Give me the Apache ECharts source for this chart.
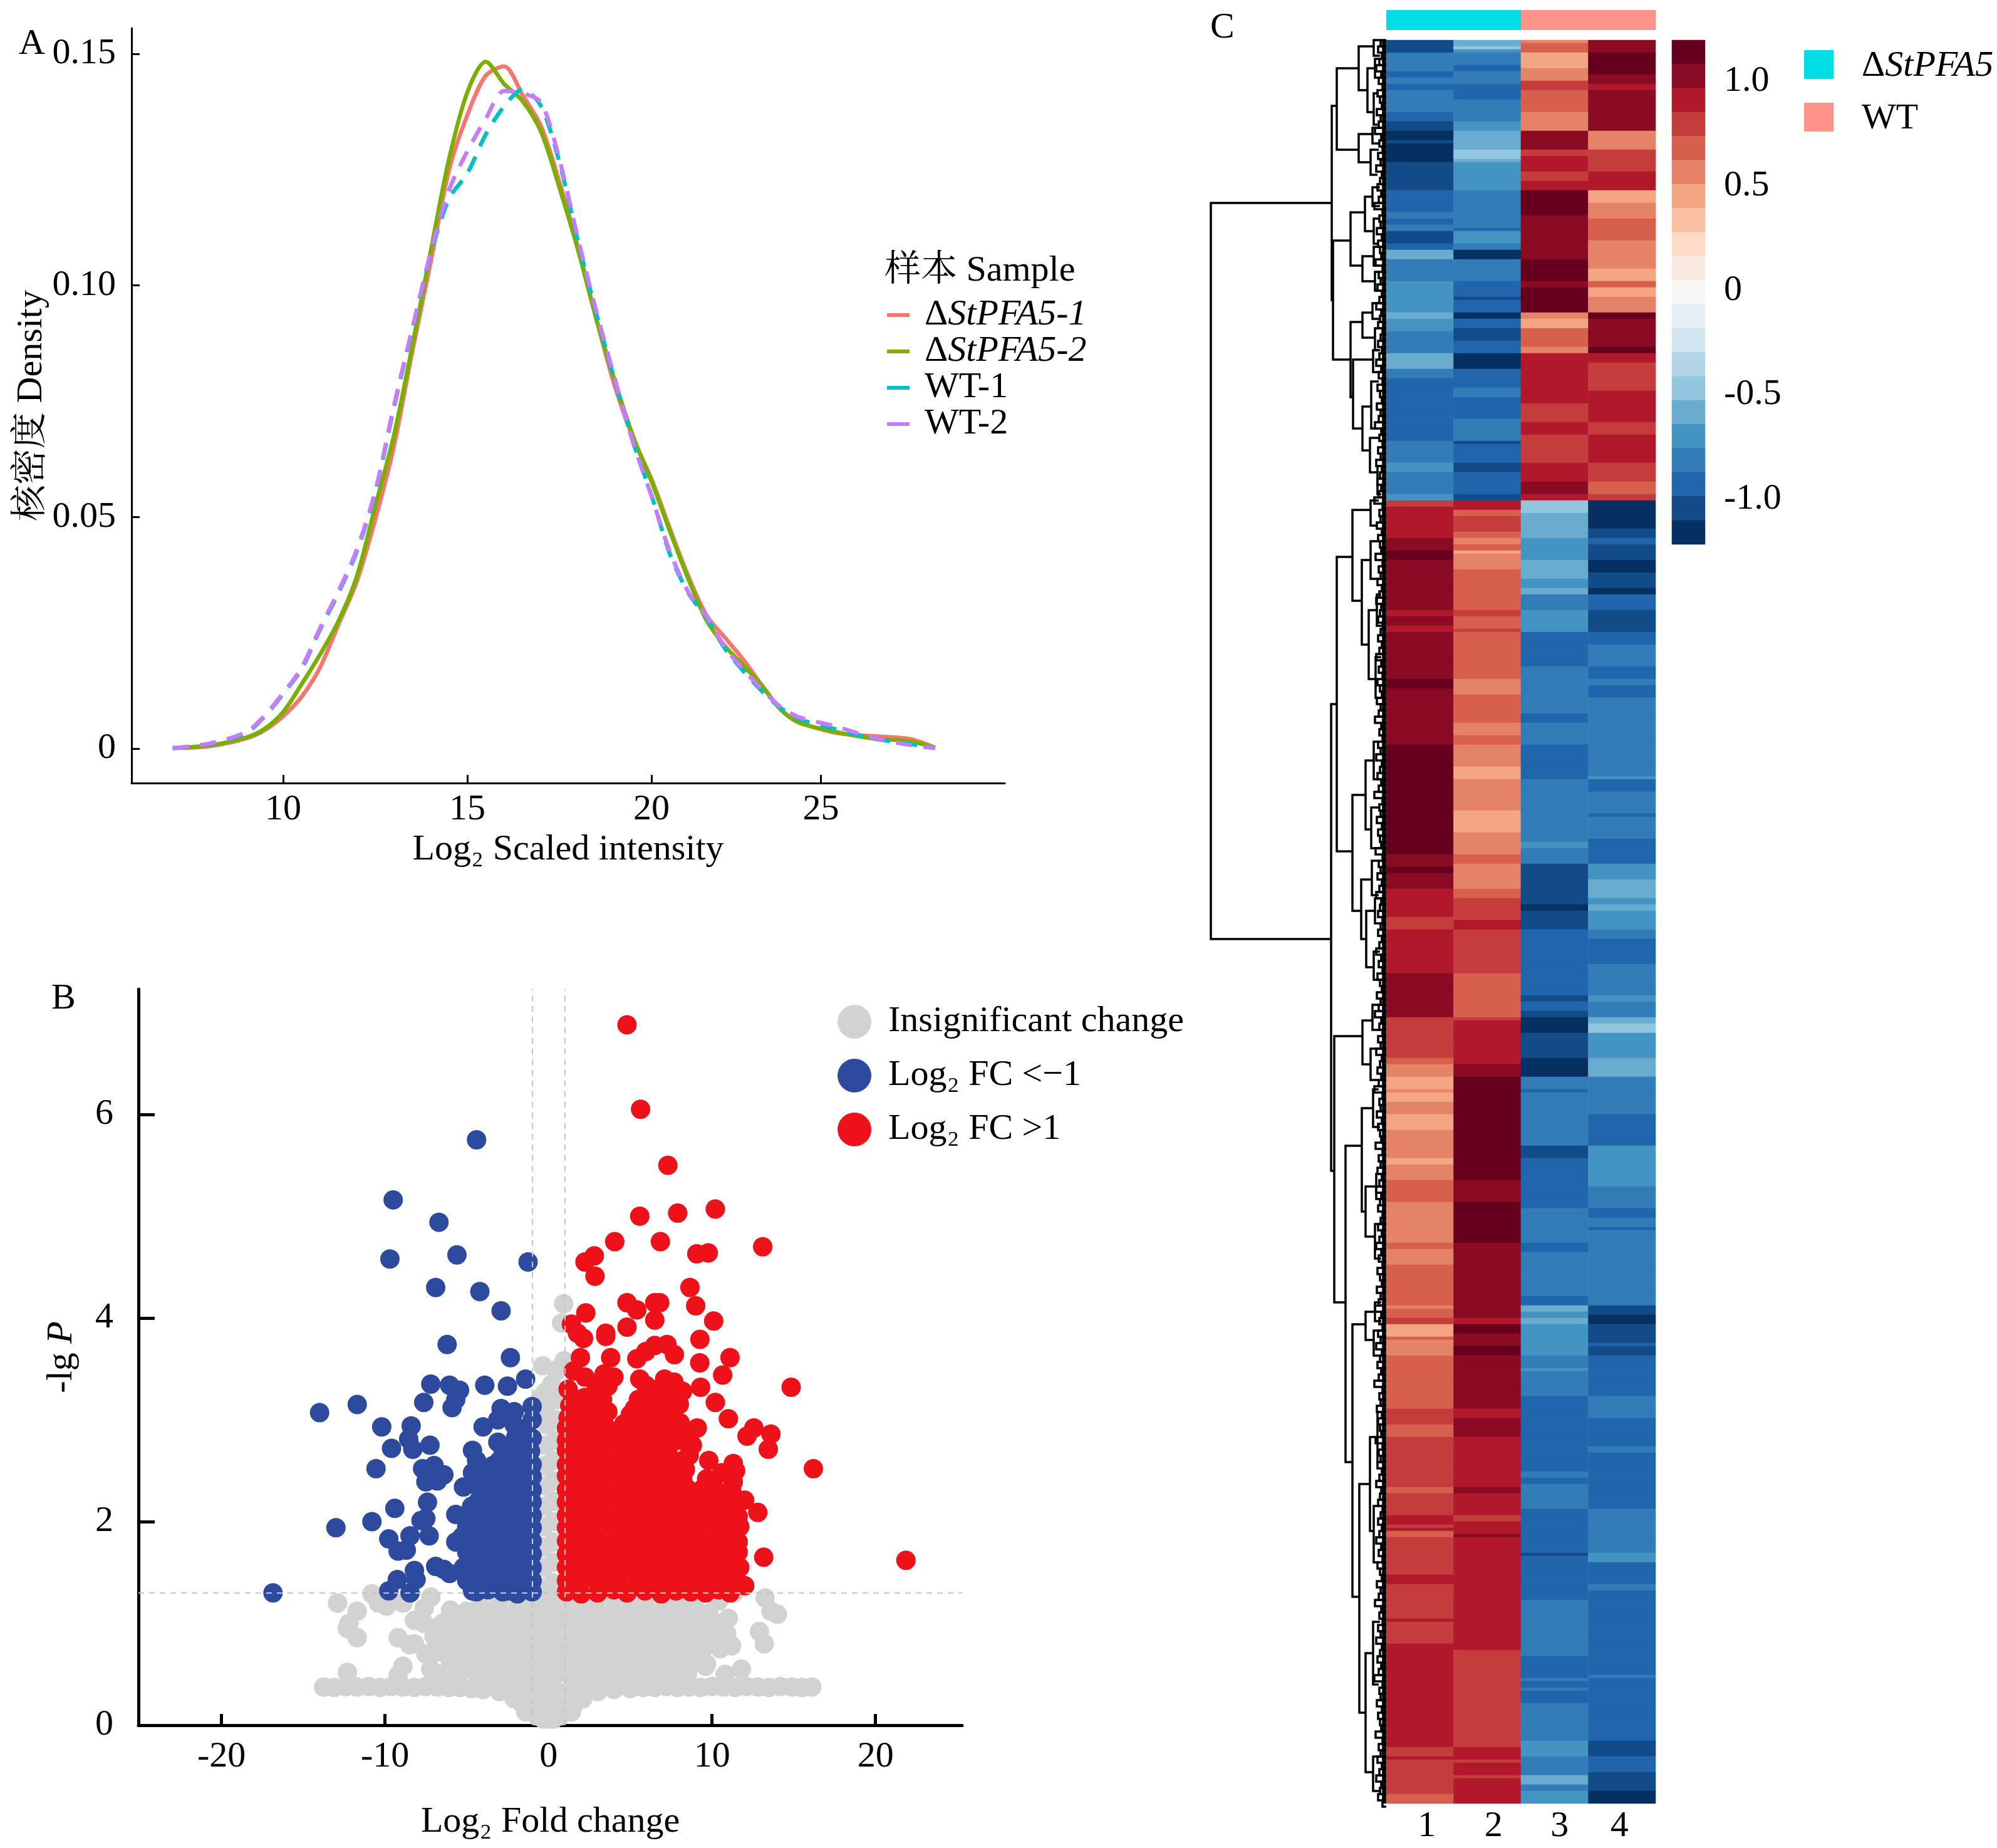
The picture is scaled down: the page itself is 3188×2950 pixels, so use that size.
<!DOCTYPE html>
<html>
<head>
<meta charset="utf-8">
<style>html,body{margin:0;padding:0;background:#fff}#c{width:3188px;height:2950px}</style>
<script src="https://cdn.jsdelivr.net/npm/echarts@6/dist/echarts.min.js"></script>
</head>
<body>
<div id="c"></div>
<script>
// ---------- Panel A: density ----------
const densityX = [7,8,9,9.5,10,10.5,11,11.5,12,12.5,13,13.5,14,14.5,15,15.5,16,16.5,17,17.5,18,18.5,19,19.5,20,20.5,21,21.5,22,22.5,23,23.5,24,25,26,27,27.7];
const ko1 = [.0001,.0005,.0022,.0040,.0070,.0112,.0175,.0268,.0361,.0495,.0650,.0855,.1048,.1248,.1368,.1453,.1473,.1411,.1344,.1223,.1084,.0928,.0783,.0670,.0582,.0475,.0372,.0287,.0239,.0191,.0136,.0085,.0058,.0034,.0027,.0021,.0002];
const ko2 = [.0001,.0007,.0024,.0043,.0079,.0139,.0203,.0275,.0372,.0523,.0674,.0867,.1072,.1272,.1417,.1483,.1435,.1398,.1332,.1211,.1078,.0928,.0795,.0674,.0577,.0469,.0366,.0276,.0221,.0179,.0136,.0085,.0056,.0036,.0022,.0016,.0002];
const wt1 = [.0001,.0010,.0034,.0070,.0118,.0172,.0257,.0336,.0426,.0553,.0734,.0903,.1066,.1187,.1242,.1326,.1387,.1423,.1387,.1266,.1097,.0940,.0795,.0662,.0547,.0420,.0336,.0282,.0215,.0167,.0124,.0088,.0064,.0042,.0022,.0010,.0001];
const wt2 = [.0001,.0011,.0036,.0072,.0120,.0175,.0260,.0340,.0430,.0556,.0738,.0905,.1070,.1205,.1290,.1360,.1420,.1415,.1395,.1272,.1102,.0945,.0800,.0660,.0545,.0425,.0338,.0285,.0218,.0170,.0128,.0090,.0068,.0048,.0024,.0008,.0001];
const densityXTicks = [10,15,20,24.6];
const densityXLabels = ['10','15','20','25'];
const densityYTicks = [0,.05,.10,.15];

// ---------- Panel B: volcano ----------
const pThreshold = 1.3, fcThreshold = 1;
const blueSparse = [[-16.85,1.3],[-14,3.07],[-11.7,3.15],[-10.2,2.93],[-8.4,2.94],[-8.55,2.81],[-9.6,2.72],[-8.3,2.71],[-7.25,2.75],[-10.55,2.52],[-7.7,2.52],[-7,2.55],[-6.4,2.46],[-7.5,2.39],[-6.8,2.4],[-5.2,2.34],[-7.4,2.19],[-9.4,2.13],[-10.8,2],[-13,1.94],[-7.8,2.01],[-7.5,2.03],[-5.67,2.07],[-9.77,1.83],[-8.47,1.86],[-7.3,1.86],[-9.2,1.71],[-8.7,1.72],[-5.67,1.8],[-4.65,1.83],[-4.37,1.62],[-6.9,1.56],[-6.4,1.53],[-6.05,1.49],[-8.2,1.52],[-9.25,1.43],[-8.1,1.43],[-9.77,1.32],[-8.47,1.3],[-4.5,1.46],[-4.65,1.32],[-4,2.93],[-3.1,3],[-2.9,3.11],[-2.1,3.08],[-3.1,2.78],[-2,2.83],[-4.65,2.7],[-4.4,2.6],[-4.65,2.48],
[-7.2,3.35],[-6.05,3.34],[-5.44,3.29],[-5.67,3.2],[-5.9,3.12],[-7.63,3.17],[-3.9,3.34],[-2.51,3.33],[-1.4,3.4],[-2.33,3.61],[-6.2,3.74],[-2.9,4.07],[-4.2,4.26],[-6.9,4.3],[-1.25,4.55],[-5.6,4.62],[-9.7,4.58],[-6.7,4.94],[-9.5,5.16],[-4.4,5.75]];
const blueDense = [[-1,1.31],[-1.9,1.29],[-2.8,1.31],[-3.7,1.33],[-4.4,1.31],[-1,1.42],[-1.5,1.44],[-2.4,1.45],[-3.3,1.43],[-4.1,1.46],[-1,1.55],[-2,1.57],[-2.9,1.56],[-3.7,1.58],[-1,1.68],[-1.5,1.7],[-2.4,1.69],[-3.3,1.71],[-4.1,1.68],[-1,1.81],[-2,1.83],[-2.9,1.82],[-3.7,1.8],[-4.4,1.78],[-1,1.94],[-1.5,1.95],[-2.4,1.94],[-3.3,1.96],[-4.1,1.93],[-1,2.06],[-2,2.08],[-2.9,2.07],[-3.7,2.05],[-4.4,2.02],[-1,2.19],[-1.5,2.2],[-2.4,2.19],[-3.3,2.21],[-1,2.31],[-2,2.33],[-2.9,2.32],[-3.7,2.3],[-4.3,2.34],[-1,2.44],[-1.5,2.45],[-2.4,2.44],[-3.2,2.46],[-1,2.56],[-2,2.58],[-2.7,2.57],[-1.1,2.69],[-1.6,2.68],[-2.3,2.66],[-1,2.82],[-1.5,2.9],[-1,3],[-1,3.13],
[-3.5,2.42],[-3.9,2.44],[-4.3,2.2],[-3.6,2.18],[-3,2.6],[-3.4,2.55],[-4.7,2.15],[-5,1.95],[-4.9,2.05],[-5,1.7],[-5.2,1.55],[-5,1.42],[-3.4,1.35],[-2.4,1.32],[-4,1.75],[-5.3,1.85],[-2.1,2.95],[-1.8,2.72],[-2.8,2.72]];
const redSparse = [[4.8,6.88],[5.63,6.05],[7.3,5.5],[5.58,5],[7.9,5.03],[10.2,5.07],[4.05,4.75],[6.84,4.75],[13.1,4.7],[2.23,4.55],[2.8,4.61],[2.84,4.41],[9.07,4.63],[9.77,4.64],[8.65,4.3],[4.8,4.15],[5.4,4.08],[6.5,4.15],[6.8,4.15],[9,4.12],[2.28,4.05],[10.1,3.97],[6.5,3.98],[1.4,3.94],[4.8,3.91],[1.77,3.85],[2.14,3.8],[3.5,3.85],[3.5,3.82],[9.26,3.79],[6.5,3.73],[5.95,3.67],[5.4,3.6],[7.25,3.74],[7.7,3.64],[1.95,3.61],[3.8,3.61],[11.1,3.61],[9.25,3.56],[1.53,3.48],[5.58,3.4],[3.4,3.45],[4,3.42],[2.23,3.42],[10.65,3.44],[7.1,3.4],[7.67,3.37],[5.95,3.34],[3.63,3.33],[1.2,3.3],[2.23,3.22],[9.3,3.32],[14.84,3.32],[8.2,3.28],[6.4,3.22],[7.35,3.22],[5.5,3.2],[1.3,3.14],[10.2,3.17],[5.26,3.11],[3.63,3.08],[7.1,3.1],[11,3.01],[8.05,2.97],[9.1,2.92],[12.56,2.92],[12.14,2.84],[13.6,2.86],[13.44,2.71],[16.2,2.52],[9.8,2.6],[11.3,2.57],[10.6,2.48],[11.44,2.5],[11.3,2.39],[9.67,2.42],[8.37,2.51],[12,2.21],[12.8,2.09],[11.6,1.8],[13.16,1.65],[21.86,1.62],[12,1.37],[11.3,1.46]];
const redDense = [[1.1,1.31],[2,1.29],[3,1.3],[4,1.33],[4.8,1.3],[5.9,1.32],[6.9,1.29],[7.8,1.32],[8.7,1.31],[9.6,1.3],[10.4,1.33],[11.1,1.3],
[1.1,1.42],[1.6,1.44],[2.5,1.45],[3.5,1.43],[4.4,1.46],[5.4,1.44],[6.4,1.45],[7.3,1.43],[8.3,1.45],[9.2,1.44],[10.1,1.46],[11,1.42],[11.7,1.39],
[1.1,1.55],[2.1,1.57],[3,1.56],[3.9,1.58],[4.9,1.57],[5.8,1.55],[6.8,1.58],[7.8,1.57],[8.7,1.56],[9.7,1.58],[10.6,1.56],[11.3,1.58],
[1.1,1.68],[1.6,1.7],[2.6,1.69],[3.5,1.71],[4.4,1.69],[5.4,1.7],[6.3,1.68],[7.3,1.71],[8.2,1.69],[9.2,1.7],[10.1,1.68],[11,1.71],
[1.1,1.81],[2.1,1.83],[3,1.82],[4,1.8],[4.9,1.83],[5.9,1.82],[6.8,1.81],[7.8,1.83],[8.7,1.82],[9.7,1.8],[10.6,1.83],[11.2,1.85],
[1.1,1.94],[1.6,1.95],[2.6,1.94],[3.5,1.96],[4.5,1.94],[5.4,1.95],[6.4,1.93],[7.3,1.96],[8.2,1.95],[9.2,1.94],[10.2,1.96],[11,1.97],
[1.1,2.06],[2.1,2.08],[3.1,2.07],[4,2.05],[4.9,2.08],[5.9,2.07],[6.8,2.06],[7.7,2.08],[8.7,2.07],[9.6,2.06],[10.6,2.08],
[1.1,2.19],[1.6,2.2],[2.6,2.19],[3.5,2.21],[4.5,2.19],[5.4,2.2],[6.4,2.18],[7.3,2.21],[8.2,2.2],[9.2,2.19],[10.1,2.21],[11.1,2.2],
[1.1,2.31],[2.1,2.33],[3.1,2.32],[4,2.3],[4.9,2.33],[5.9,2.32],[6.8,2.31],[7.7,2.33],[8.5,2.32],[9.9,2.31],
[1.1,2.45],[1.6,2.44],[2.6,2.45],[3.5,2.46],[4.5,2.44],[5.4,2.45],[6.4,2.43],[7.3,2.46],[8.2,2.42],
[1.1,2.56],[2.1,2.58],[3.1,2.57],[4,2.55],[4.9,2.58],[5.9,2.57],[6.8,2.56],[7.7,2.58],[8.2,2.6],
[1.1,2.7],[1.6,2.69],[2.6,2.7],[3.5,2.71],[4.5,2.69],[5.4,2.7],[6.4,2.68],[7.3,2.71],
[1.1,2.8],[2.1,2.83],[3.1,2.82],[4.2,2.8],[5.2,2.83],[6.2,2.82],[7.1,2.81],[7.9,2.8],[8.4,2.78],
[2.6,2.95],[3.5,2.93],[4.6,2.96],[5.6,2.95],[6.4,2.94],[7.3,2.96],[2,3.07],[6,3.05],[6.9,3.08],
[1.1,2.92],[1.2,3.02],[2,2.95],[2.6,3.05],[3.1,3.08],[1.8,3.2],[2.7,3.2],[2.9,3.35],[5.2,2.98],[5.9,3.15],[6.8,3.2],[6.3,3.3],[7.6,3.05],[7.9,2.92],[8.3,2.85],[8.6,2.65],[8.8,2.75],[3.3,3.2],[4.5,2.85],[5,3.05],[7,3.3],[7.5,3.15],[8,3.15],
[9.5,2.2],[10.2,2.32],[10.8,2.25],[11.2,2.3],[9.4,2.32],[10.6,1.95],[11.7,1.95],[11.6,2.05],[11.7,1.55],[11.6,1.7]];
const greyBottomRow = [[-13.75,.375],[-13.1,.37],[-12.4,.38],[-11.7,.375],[-11,.38],[-10.3,.37],[-9.6,.38],[-8.9,.375],[-8.2,.37],[-7.5,.38],[-6.8,.375],[-6.1,.37],[-5.4,.37],[-4.7,.36],[-4,.35],[-3,.33],[-2.1,.26],[-1.6,.21],[-1.1,.16],[-.7,.09],[-.3,.06],[0,.06],[.3,.06],[.7,.09],[1.1,.16],[1.6,.21],[2.1,.26],[3,.33],[4,.35],[5,.36],[5.8,.37],[6.5,.37],[7.2,.38],[7.9,.37],[8.6,.375],[9.3,.37],[10,.38],[10.7,.375],[11.4,.37],[12.1,.38],[12.8,.375],[13.5,.37],[14.2,.38],[14.9,.375],[15.5,.37],[16.1,.375]];
const greyFill = [[-5.5,.5],[-4.5,.52],[-3.5,.5],[-2.5,.51],[-1.5,.5],[-.5,.49],[.5,.5],[1.5,.52],[2.5,.5],[3.5,.51],[4.5,.5],[5.5,.49],[6.5,.52],[7.5,.5],[8.5,.5],
[-6,.63],[-5,.62],[-4,.64],[-3,.63],[-2,.62],[-1,.64],[0,.63],[1,.62],[2,.64],[3,.63],[4,.62],[5,.64],[6,.63],[7,.62],[8,.64],[9,.62],[9.6,.58],
[-6.5,.75],[-5.5,.76],[-4.5,.75],[-3.5,.74],[-2.5,.76],[-1.5,.75],[-.5,.74],[.5,.76],[1.5,.75],[2.5,.74],[3.5,.76],[4.5,.75],[5.5,.74],[6.5,.76],[7.5,.75],[8.5,.74],[9.5,.76],[10.5,.75],[11.2,.78],
[-7,.87],[-6,.88],[-5,.87],[-4,.86],[-3,.88],[-2,.87],[-1,.86],[0,.88],[1,.87],[2,.86],[3,.88],[4,.87],[5,.86],[6,.88],[7,.87],[8,.86],[9,.88],[10,.87],[10.9,.9],
[-7.6,1],[-6.5,1],[-5.5,1.01],[-4.5,1],[-3.5,.99],[-2.5,1.01],[-1.5,1],[-.5,.99],[.5,1.01],[1.5,1],[2.5,.99],[3.5,1.01],[4.5,1],[5.5,.99],[6.5,1.01],[7.5,1],[8.5,.99],[9.5,1.01],[10.4,1],
[-6,1.13],[-5,1.12],[-4,1.14],[-3,1.13],[-2,1.12],[-1,1.14],[0,1.13],[1,1.12],[2,1.14],[3,1.13],[4,1.12],[5,1.14],[6,1.13],[7,1.12],[8,1.14],[9,1.13],[9.8,1.1],
[-4.2,1.25],[-3,1.24],[-2,1.25],[-1,1.24],[0,1.25],[1,1.24],[2,1.25],[3,1.24],[4,1.25],[5,1.24],[6,1.25],[7,1.24],[8,1.25],[9,1.24],[10.4,1.22],
[-.9,.2],[-.4,.2],[0,.2],[.4,.2],[.9,.2],[-1.6,.33],[-.9,.33],[-.2,.33],[.5,.33],[1.2,.33],[1.9,.33],[-2.5,.38],[2.5,.38],[-3.5,.42],[3.5,.42],[-1.5,.42],[0,.42],[1.5,.42],[-6.5,.5],[-7.2,.55],[-7.5,.7],[-8.2,.8],[-6,.5],[-1.4,.13],[1.4,.13],[-2,.3],[2,.3]];
const greyCentre = [[-.3,1.35],[.3,1.4],[-.3,1.55],[.3,1.6],[-.3,1.75],[.3,1.8],[-.3,1.95],[.3,2],[-.3,2.15],[.3,2.2],[-.2,2.35],[.3,2.4],[-.2,2.55],[.3,2.6],[-.2,2.75],[.4,2.8],[-.1,2.95],[.5,3],[-.2,3.1],[.5,3.2],[-.2,3.27],[.2,3.35],[-.35,3.53],[.5,3.48],[.6,3.5],[.95,3.58],[.8,3.95],[.93,4.14],[-.46,3.22]];
const greySparse = [[-12.9,1.2],[-11.7,1.12],[-12.2,1],[-12.3,.95],[-11.7,.86],[-10.8,1.29],[-10.4,1.2],[-9.9,1.17],[-8.9,1.2],[-7.2,1.26],[-7.6,1.15],[-9.2,.86],[-8.5,.79],[-12.3,.52],[-8.9,.58],[-9.2,.49],[-6.8,.72],[-8.2,1.03],[-6.6,.5],[13.25,1.25],[13.6,1.12],[14,1.09],[12.9,.92],[13.2,.8],[11.8,.55],[11.07,.8],[10.6,.95],[9.67,.6],[10.8,.5],[11.35,1.3],[11,1.05]];
const volcanoXTicks = [-20,-10,0,10,20], volcanoYTicks = [0,2,4,6];

// ---------- Panel C: heatmap ----------
const colourLevels = ['#67001f','#8a0b24','#b2182b','#c43c3c','#d6604d','#e58368','#f4a582','#f9c0a3','#fddbc7','#f9eae1','#f7f7f7','#e5eff4','#d1e5f0','#b2d5e8','#92c5de','#6aacd0','#4393c3','#327cb8','#2166ac','#134b88','#053061'];
const levelValues = [1.13,1.01,.90,.78,.67,.55,.44,.32,.21,.09,-.02,-.14,-.25,-.37,-.48,-.60,-.71,-.83,-.94,-1.06,-1.17];
const rowCount = 563;
const sampleColumns = ['1','2','3','4'];
// each run: [last row, level]
const col1 = [[4,19],[10,17],[12,18],[14,17],[16,18],[23,17],[26,18],[29,19],[32,20],[33,19],[39,20],[48,19],[55,18],[57,17],[59,18],[61,17],[65,19],[67,18],[70,15],[77,17],[79,16],[87,16],[89,15],[93,16],[100,17],[105,15],[108,17],[128,18],[135,17],[138,16],[145,17],[147,16],
[149,3],[159,2],[163,1],[166,0],[182,1],[184,2],[187,1],[189,2],[204,1],[207,0],[225,1],[260,0],[264,1],[266,0],[271,1],[280,2],[284,3],[298,2],[312,1],[325,3],[327,4],[331,5],[335,6],[336,5],[339,6],[343,5],[348,6],[357,5],
[359,6],[364,5],[371,4],[384,5],[386,4],[391,5],[404,4],[405,5],[408,4],[410,3],[414,6],[415,4],[420,5],[437,4],[442,3],[446,4],[462,3],[464,4],[471,3],[474,2],[475,3],[476,2],[478,4],[490,3],[493,2],[504,3],[505,2],[512,3],[545,2],[548,3],[549,2],[560,3],[563,4]];
const col2 = [[2,15],[3,14],[4,16],[8,17],[10,18],[14,17],[19,18],[26,17],[29,16],[35,15],[38,14],[39,15],[48,16],[60,17],[61,18],[65,16],[67,17],[70,20],[77,17],[82,18],[83,19],[87,18],[89,20],[92,18],[96,19],[100,18],[105,20],[111,18],[114,17],[121,18],[128,17],[129,19],[135,18],[138,19],[145,18],[147,19],
[150,2],[152,4],[157,3],[159,4],[161,5],[163,4],[164,6],[169,5],[182,4],[184,3],[188,4],[189,3],[204,4],[209,5],[218,4],[222,5],[225,4],[232,5],[236,6],[246,5],[253,6],[260,5],[263,4],[271,5],[274,4],[281,3],[284,2],[298,3],[312,4],[313,3],[327,2],[331,1],[364,0],
[371,1],[384,0],[408,1],[410,2],[413,0],[417,1],[420,0],[437,1],[440,2],[446,1],[462,2],[464,1],[471,2],[473,3],[477,2],[478,1],[514,2],[545,3],[549,2],[550,3],[554,2],[555,3],[563,2]];
const col3 = [[1,5],[4,4],[9,6],[10,5],[13,5],[16,3],[23,4],[29,5],[35,1],[37,3],[42,2],[45,3],[48,2],[56,0],[70,1],[77,0],[79,1],[87,0],[89,5],[92,6],[98,4],[100,5],[116,2],[122,3],[126,2],[135,3],[141,2],[145,1],[147,2],
[151,14],[159,15],[166,16],[172,15],[175,16],[177,15],[182,17],[189,16],[200,18],[215,17],[218,18],[225,17],[236,18],[256,17],[258,16],[263,17],[276,19],[278,20],[284,19],[305,18],[307,19],[310,18],[312,19],[317,20],[325,19],[331,20],[335,17],[336,18],[353,17],[357,19],
[373,18],[384,17],[387,18],[401,17],[404,18],[406,15],[408,16],[410,15],[420,16],[424,17],[425,16],[433,17],[457,18],[459,17],[461,18],[469,17],[483,18],[484,19],[498,18],[516,17],[523,18],[524,17],[526,18],[527,17],[531,18],[543,17],[548,16],[554,17],[557,15],[559,17],[563,16]];
const col4 = [[4,1],[11,0],[14,1],[16,2],[29,1],[35,5],[42,3],[48,2],[52,6],[57,5],[64,4],[73,5],[77,6],[79,4],[82,6],[87,5],[89,0],[98,1],[100,0],[103,2],[112,3],[122,2],[126,3],[135,2],[141,3],[145,4],[147,3],
[156,20],[159,19],[161,18],[166,19],[170,20],[175,19],[177,20],[182,18],[189,19],[193,18],[200,17],[204,18],[206,17],[210,18],[235,17],[236,16],[240,18],[247,17],[248,18],[255,17],[263,18],[268,16],[274,15],[276,16],[278,15],[284,16],[287,17],[295,18],[305,17],[307,16],[312,17],[314,15],[317,14],[325,16],[331,15],[343,17],[353,18],[357,16],
[366,16],[373,17],[376,18],[379,17],[380,18],[404,17],[407,19],[410,20],[416,19],[417,18],[420,19],[433,18],[440,17],[449,18],[451,17],[469,18],[483,17],[486,16],[493,18],[495,17],[522,18],[523,17],[543,18],[548,19],[553,18],[559,19],[563,20]];
const colourbarTicks = [1,.5,0,-.5,-1], colourbarLabels = ['1.0','0.5','0','-0.5','-1.0'];
const groupNames = ['ΔStPFA5','WT'], groupSizes = [2,2];
// dendrogram merges: [merge height, row a, row b, height of child a, height of child b]
const dendroMerges = [[280,52,287,87,88],[87,21,83,79,85],[79,9,35,44,44],[44,2,16,20,30],[30,9,23,18,20],[20,0,5,10,10],[18,6,12,10,10],[20,17,27,12,14],[44,30,39,22,25],[25,35,43,12,14],[22,28,33,10,10],[85,64,102,57,57],[57,55,72,34,38],[34,50,61,22,20],[22,47,53,10,10],[20,57,65,10,12],[38,69,77,20,18],[20,66,72,10,10],[18,74,80,10,10],[57,90,114,38,53],[38,87,95,22,18],[22,84,89,10,10],[18,92,99,10,10],[53,102,124,21,38],[21,99,106,10,10],[38,117,131,24,26],[24,109,124,12,14],[26,127,138,12,14],[14,136,145,8,8],
[88,212,361,79,83],[79,165,259,54,54],[54,150,179,25,39],[25,147,155,12,14],[39,166,193,25,28],[25,160,172,14,12],[28,182,204,15,17],[15,177,187,8,8],[17,197,210,8,10],[54,241,278,33,40],[33,230,252,20,24],[20,224,236,10,10],[24,245,258,12,10],[40,268,287,23,32],[23,262,273,12,12],[32,278,296,18,20],[18,274,282,8,8],[20,291,300,10,10],
[83,318,403,38,65],[38,313,327,22,25],[22,308,316,10,10],[25,322,332,12,12],[65,353,454,39,54],[39,341,374,21,33],[21,335,347,12,10],[33,366,382,16,18],[16,362,370,8,8],[18,378,389,10,8],[54,410,497,33,43],[33,406,415,18,20],[18,403,409,8,8],[20,412,420,8,8],[43,461,534,26,33],[26,446,476,14,20],[14,438,454,8,8],[20,468,486,10,12],[33,515,553,21,21],[21,505,525,10,12],[21,548,559,10,8]];
const leafHeights = [9,13,7,11,16,8,12,6,14,10,7,15,9,12,18,8,11,6,13,9,16,7,10,14,8,12,19,6,11,9,15,7,13,10,8,17,6,12,9,14,7,11,16,8,10,13,6];

// ---------- helpers ----------
const FONT = '"Liberation Serif","Noto Serif CJK SC","Noto Sans CJK SC",serif';
const FS = 58;
function heatCells() {
  const cells = [];
  [col1, col2, col3, col4].forEach((runs, c) => {
    let start = 0;
    runs.forEach(([end, lvl]) => {
      for (let r = start; r < end; r++) cells.push([c, r, levelValues[lvl]]);
      start = end;
    });
  });
  return cells;
}
function dendroData() {
  const out = dendroMerges.slice();
  for (let r = 0, i = 0; r < rowCount; r += 2, i++) {
    out.push([leafHeights[i % leafHeights.length], r, r + 2, 0, 0]);
  }
  out.push([2, 0, rowCount, 2, 2], [5, 0, rowCount, 5, 5]);
  return out;
}
const rich = {
  n: {fontFamily: FONT, fontSize: FS, color: '#000'},
  i: {fontFamily: FONT, fontSize: FS, fontStyle: 'italic', color: '#000'},
  pa: {width: 19, fontSize: FS}, pb: {width: 22, fontSize: FS}, pc: {width: 40, fontSize: FS}
};
const legendLabel = pad => name => {
  if (name[0] === 'Δ') return '{' + pad + '| }{n|Δ}{i|' + name.slice(1) + '}';
  return '{' + pad + '| }{n|' + name + '}';
};
const axisText = {fontFamily: FONT, fontSize: FS, color: '#000'};
const hidden = {show: false};
const sampleRich = {
  s0: Object.assign({padding: [0, 0, 0, 22]}, axisText),
  s1: Object.assign({padding: [0, 0, 0, 20]}, axisText),
  s2: Object.assign({padding: [0, 0, 0, 16]}, axisText),
  s3: Object.assign({padding: [0, 8, 0, 0]}, axisText)
};

const chart = echarts.init(document.getElementById('c'), null, {renderer: 'canvas', width: 3188, height: 2950});
const densityColours = ['#f8766d', '#7cae00', '#00bfc4', '#c77cff'];
const lineSeries = (name, ys, i, dashed) => ({
  type: 'line', name, xAxisIndex: 0, yAxisIndex: 0, showSymbol: false, smooth: 0.3,
  data: densityX.map((x, k) => [x, ys[k]]),
  lineStyle: {color: densityColours[i], width: 6.5, type: dashed ? [26, 18] : 'solid'},
  itemStyle: {color: densityColours[i]}, silent: true
});
const scatter = (name, data, color) => ({
  type: 'scatter', name, xAxisIndex: 1, yAxisIndex: 1, symbol: 'circle', symbolSize: 31, data,
  itemStyle: {color, opacity: 1}, silent: true
});

chart.setOption({
  animation: false,
  backgroundColor: '#fff',
  textStyle: {fontFamily: FONT},
  grid: [
    {left: 210, top: 45, width: 1394, height: 1205},
    {left: 221, top: 1579, width: 1315, height: 1175},
    {left: 1933, top: 64, width: 280, height: 2815},
    {left: 2213, top: 64, width: 430, height: 2815},
    {left: 2213, top: 16, width: 430, height: 32},
    {left: 2669, top: 64, width: 53, height: 805}
  ],
  xAxis: [
    {gridIndex: 0, type: 'value', min: 5.884, max: 29.59, splitLine: hidden,
     name: 'Log₂ Scaled intensity', nameLocation: 'middle', nameGap: 78, nameTextStyle: axisText,
     axisLine: {onZero: false, lineStyle: {color: '#000', width: 3}},
     axisTick: {inside: true, length: 13, customValues: densityXTicks, lineStyle: {color: '#000', width: 3}},
     axisLabel: Object.assign({margin: 14, customValues: densityXTicks, formatter: v => densityXLabels[densityXTicks.indexOf(v)]}, axisText)},
    {gridIndex: 1, type: 'value', min: -25.08, max: 25.3, splitLine: hidden,
     name: 'Log₂ Fold change', nameLocation: 'middle', nameGap: 126, nameTextStyle: axisText,
     axisLine: {onZero: false, lineStyle: {color: '#000', width: 5}},
     axisTick: {inside: true, length: 18, customValues: volcanoXTicks, lineStyle: {color: '#000', width: 5}},
     axisLabel: Object.assign({margin: 22, customValues: volcanoXTicks, formatter: v => String(v)}, axisText)},
    {gridIndex: 2, type: 'value', min: 0, max: 280, inverse: true, show: false},
    {gridIndex: 3, type: 'category', data: sampleColumns, splitLine: hidden,
     axisLine: hidden, axisTick: hidden,
     axisLabel: {margin: 8, rich: sampleRich, formatter: (v, i) => '{s' + i + '|' + v + '}'}},
    {gridIndex: 4, type: 'value', min: 0, max: 4, show: false},
    {gridIndex: 5, type: 'category', data: [''], show: false}
  ],
  yAxis: [
    {gridIndex: 0, type: 'value', min: -0.00744, max: 0.15555, splitLine: hidden,
     name: '核密度 Density', nameLocation: 'middle', nameGap: 130, nameRotate: 90, nameTextStyle: axisText,
     axisLine: {onZero: false, lineStyle: {color: '#000', width: 3}},
     axisTick: {inside: true, length: 13, customValues: densityYTicks, lineStyle: {color: '#000', width: 3}},
     axisLabel: Object.assign({margin: 25, customValues: densityYTicks, formatter: v => v === 0 ? '0' : v.toFixed(2)}, axisText)},
    {gridIndex: 1, type: 'value', min: 0, max: 7.23, splitLine: hidden,
     name: '{n|-lg }{i|P}', nameLocation: 'middle', nameGap: 93, nameRotate: 90, nameTextStyle: {rich},
     axisLine: {onZero: false, lineStyle: {color: '#000', width: 5}},
     axisTick: {inside: true, length: 26, customValues: volcanoYTicks, lineStyle: {color: '#000', width: 5}},
     axisLabel: Object.assign({margin: 40, customValues: volcanoYTicks, formatter: v => String(v)}, axisText)},
    {gridIndex: 2, type: 'value', min: 0, max: rowCount, inverse: true, show: false},
    {gridIndex: 3, type: 'category', inverse: true, show: false, data: Array.from({length: rowCount}, (_, i) => i)},
    {gridIndex: 4, type: 'category', data: ['group'], show: false},
    {gridIndex: 5, type: 'category', inverse: true, show: false, data: levelValues},
    {gridIndex: 5, type: 'value', min: -1.216, max: 1.198, position: 'right', splitLine: hidden,
     axisLine: hidden, axisTick: hidden,
     axisLabel: Object.assign({margin: 30, customValues: colourbarTicks, formatter: v => colourbarLabels[colourbarTicks.indexOf(v)]}, axisText)}
  ],
  visualMap: [{
    type: 'piecewise', show: false, seriesIndex: [9, 10], dimension: 2,
    pieces: levelValues.map((v, i) => ({value: v, color: colourLevels[i]}))
  }],
  legend: [
    {left: 1416, top: 474, orient: 'vertical', padding: 0, itemWidth: 36, itemHeight: 6, itemGap: 0, icon: 'rect',
     selectedMode: false, data: ['ΔStPFA5-1', 'ΔStPFA5-2', 'WT-1', 'WT-2'],
     formatter: legendLabel('pa'), textStyle: {rich, lineHeight: 58, height: 58}},
    {left: 1337, top: 1602, orient: 'vertical', padding: 0, itemWidth: 54, itemHeight: 54, itemGap: 28, icon: 'circle',
     selectedMode: false, data: ['Insignificant change', 'Log₂ FC <−1', 'Log₂ FC >1'],
     formatter: legendLabel('pb'), textStyle: {rich, lineHeight: 58, height: 58}},
    {left: 2880, top: 77, orient: 'vertical', padding: 0, itemWidth: 47, itemHeight: 46, itemGap: 26, icon: 'rect',
     selectedMode: false, data: groupNames,
     formatter: legendLabel('pc'), textStyle: {rich, lineHeight: 58, height: 52}}
  ],
  graphic: [
    {type: 'text', x: 30, y: 42, style: {text: 'A', font: `${FS}px ${FONT}`, fill: '#000'}},
    {type: 'text', x: 82, y: 1566, style: {text: 'B', font: `${FS}px ${FONT}`, fill: '#000'}},
    {type: 'text', x: 1932, y: 16, style: {text: 'C', font: `${FS}px ${FONT}`, fill: '#000'}},
    {type: 'text', x: 1412, y: 404, style: {text: '样本 Sample', font: `${FS}px ${FONT}`, fill: '#000'}}
  ],
  series: [
    lineSeries('ΔStPFA5-1', ko1, 0, false),
    lineSeries('ΔStPFA5-2', ko2, 1, false),
    lineSeries('WT-1', wt1, 2, true),
    lineSeries('WT-2', wt2, 3, true),
    scatter('Insignificant change', greyBottomRow.concat(greyFill, greyCentre, greySparse), '#d2d2d2'),
    scatter('Log₂ FC <−1', blueSparse.concat(blueDense), '#2e4a9e'),
    Object.assign(scatter('Log₂ FC >1', redSparse.concat(redDense), '#ee1119'), {
      markLine: {
        silent: true, symbol: 'none', z: 6, animation: false, label: hidden,
        lineStyle: {color: '#c6c6c6', width: 2.2, type: [9, 8]},
        data: [{yAxis: pThreshold}, {xAxis: -fcThreshold}, {xAxis: fcThreshold}]
      }
    }),
    {type: 'bar', name: groupNames[0], xAxisIndex: 4, yAxisIndex: 4, stack: 'g', barWidth: '100%', data: [groupSizes[0]], itemStyle: {color: '#00dde4'}, silent: true},
    {type: 'bar', name: groupNames[1], xAxisIndex: 4, yAxisIndex: 4, stack: 'g', barWidth: '100%', data: [groupSizes[1]], itemStyle: {color: '#ff938a'}, silent: true},
    {type: 'heatmap', xAxisIndex: 3, yAxisIndex: 3, data: heatCells(), progressive: 0, silent: true},
    {type: 'heatmap', xAxisIndex: 5, yAxisIndex: 5, data: levelValues.map((v, i) => [0, i, v]), silent: true},
    {type: 'line', xAxisIndex: 5, yAxisIndex: 6, data: [], silent: true},
    {type: 'custom', xAxisIndex: 2, yAxisIndex: 2, silent: true, data: dendroData(), clip: false,
     encode: {x: [0, 3, 4], y: [1, 2]},
     renderItem: (params, api) => {
       const h = api.value(0), a = api.value(1), b = api.value(2), ca = api.value(3), cb = api.value(4);
       return {type: 'polyline', shape: {points: [api.coord([ca, a]), api.coord([h, a]), api.coord([h, b]), api.coord([cb, b])]},
               style: {stroke: '#000', lineWidth: 3.5, fill: null}};
     }}
  ]
});
</script>
</body>
</html>
